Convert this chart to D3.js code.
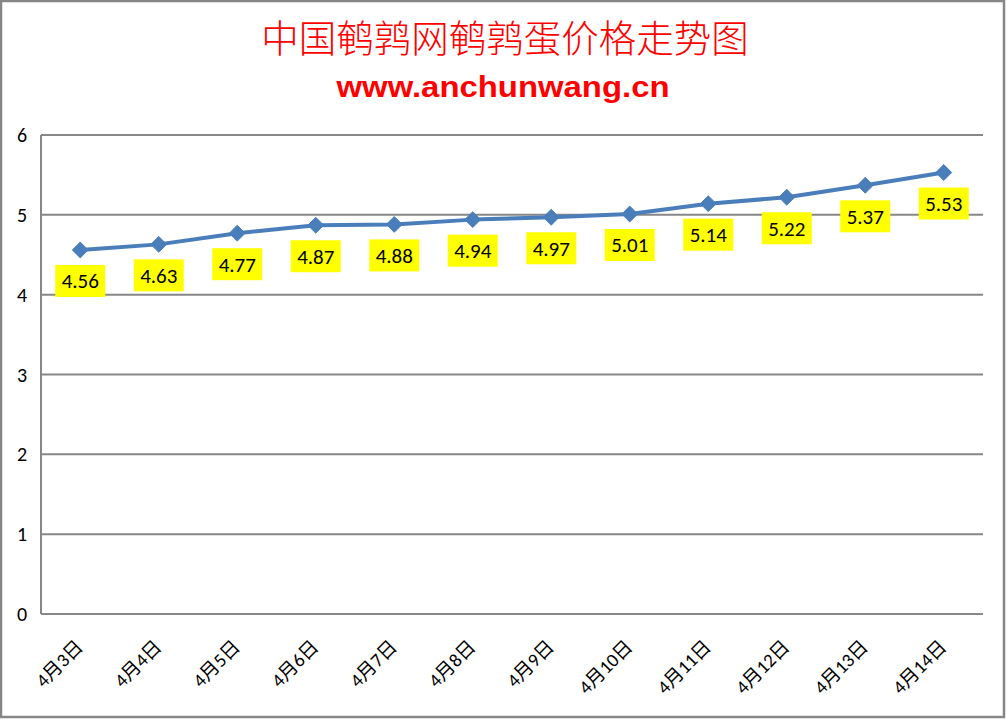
<!DOCTYPE html>
<html><head><meta charset="utf-8">
<script src="https://cdn.jsdelivr.net/npm/d3@7"></script>
<style>body{margin:0;background:#fff}svg{display:block}</style>
</head><body>
<svg id="c" width="1007" height="719"></svg>
<script>
const categories = ["4月3日","4月4日","4月5日","4月6日","4月7日","4月8日","4月9日","4月10日","4月11日","4月12日","4月13日","4月14日"];
const prices = [4.56,4.63,4.77,4.87,4.88,4.94,4.97,5.01,5.14,5.22,5.37,5.53];
const yTicks = [0,1,2,3,4,5,6];
const titleText = "中国鹌鹑网鹌鹑蛋价格走势图";
const subtitleText = "www.anchunwang.cn";

const svg = d3.select("#c");
const W = 1007, H = 719;
const m = {left:41, right:983, top:135, bottom:614};

svg.append("rect").attr("x",1).attr("y",1).attr("width",W-4).attr("height",H-3)
  .attr("fill","#fff").attr("stroke","#868686").attr("stroke-width",2.5);

const x = d3.scaleBand().domain(categories).range([m.left,m.right]);
const y = d3.scaleLinear().domain([0,6]).range([m.bottom,m.top]);

// gridlines
svg.append("g").selectAll("line").data(yTicks).join("line")
  .attr("x1",m.left).attr("x2",m.right)
  .attr("y1",d=>y(d)).attr("y2",d=>y(d))
  .attr("stroke","#878787").attr("stroke-width",2);
svg.append("line").attr("x1",m.left).attr("x2",m.left).attr("y1",m.top).attr("y2",m.bottom)
  .attr("stroke","#878787").attr("stroke-width",2);

// y labels
svg.append("g").selectAll("text").data(yTicks).join("text")
  .attr("x",22).attr("y",d=>y(d)).attr("dy","0.35em")
  .attr("text-anchor","middle").attr("font-family","Carlito, 'Open Sans', sans-serif")
  .attr("font-size",20).attr("fill","#000").text(d=>d);

// x labels
svg.append("g").selectAll("text").data(categories).join("text")
  .attr("text-anchor","end").attr("font-family","Carlito, 'Noto Sans CJK SC', sans-serif")
  .attr("font-size",19).attr("fill","#000")
  .attr("transform",d=>`translate(${x(d)+x.bandwidth()/2+4},${m.bottom+34}) rotate(-45)`)
  .text(d=>d);

// line
const cx = (d,i)=>x(categories[i])+x.bandwidth()/2;
svg.append("path").datum(prices)
  .attr("d",d3.line().x((d,i)=>cx(d,i)).y(d=>y(d)))
  .attr("fill","none").attr("stroke","#4A7EBB").attr("stroke-width",4).attr("stroke-linejoin","round");

svg.append("g").selectAll("path").data(prices).join("path")
  .attr("d",d3.symbol(d3.symbolDiamond2, 160))
  .attr("transform",(d,i)=>`translate(${cx(d,i)},${y(d)})`)
  .attr("fill","#4A7EBB").attr("stroke","#4A7EBB").attr("stroke-width",1);

// labels
const lg = svg.append("g").selectAll("g").data(prices).join("g")
  .attr("transform",(d,i)=>`translate(${cx(d,i)},${y(d)+31})`);
lg.append("rect").attr("x",-25).attr("y",-16).attr("width",50).attr("height",32).attr("fill","#FFFF00");
lg.append("text").attr("text-anchor","middle").attr("dy","0.35em")
  .attr("font-family","Carlito, 'Open Sans', sans-serif").attr("font-size",21).attr("fill","#000")
  .text(d=>d.toFixed(2));

// titles
svg.append("text").attr("x",505).attr("y",52).attr("text-anchor","middle")
  .attr("font-family","'Noto Sans CJK SC', sans-serif").attr("font-size",37.5).attr("font-weight",300)
  .attr("fill","#FF0000").text(titleText);
svg.append("text").attr("x",503).attr("y",97).attr("text-anchor","middle")
  .attr("font-family","'Liberation Sans', sans-serif").attr("font-size",30).attr("font-weight","bold")
  .attr("textLength",333).attr("lengthAdjust","spacingAndGlyphs")
  .attr("fill","#FF0000").text(subtitleText);
</script>
</body></html>
